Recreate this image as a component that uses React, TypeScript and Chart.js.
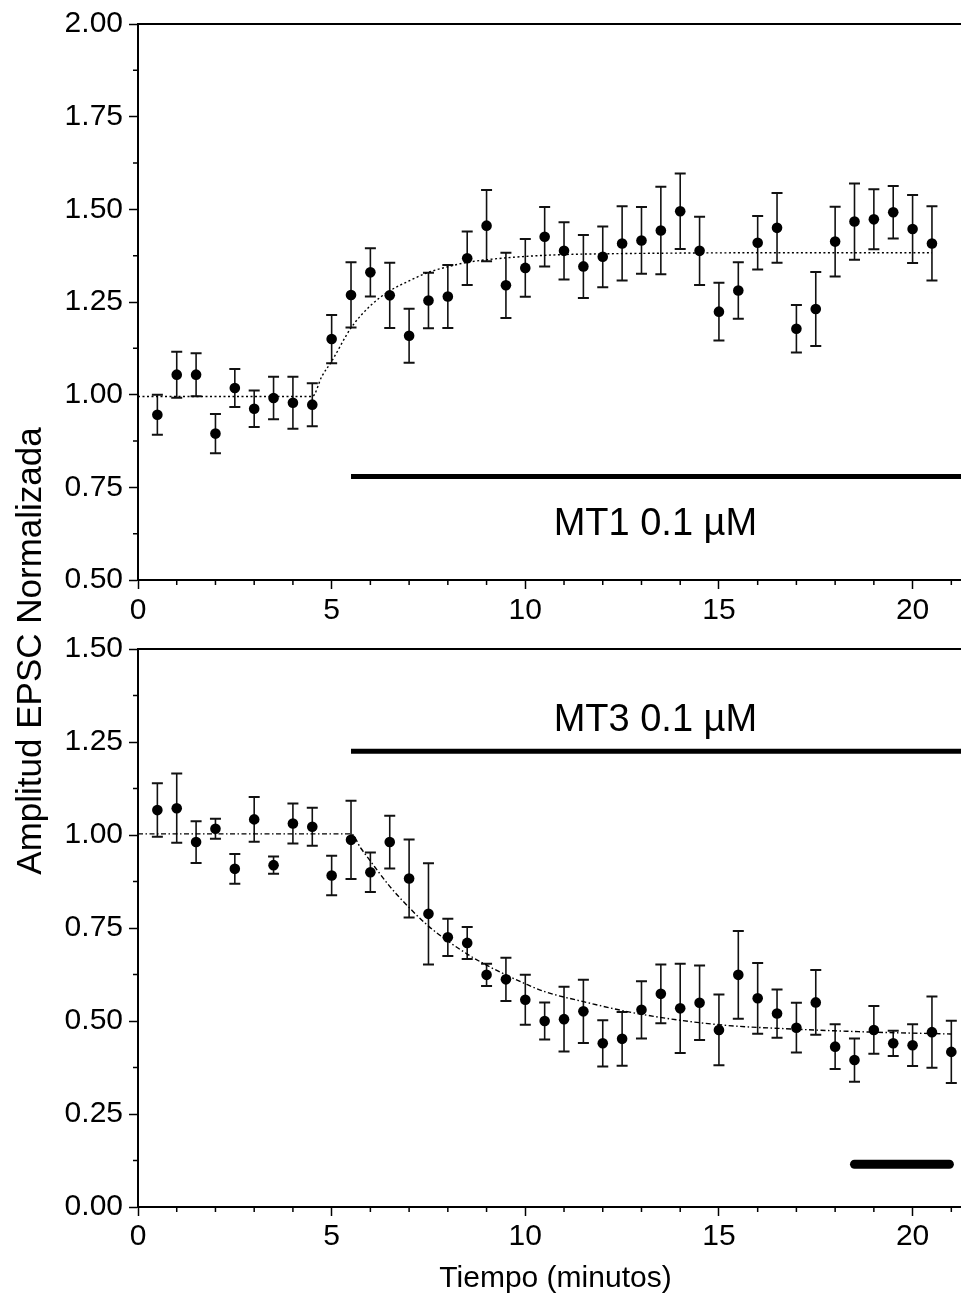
import React, { useEffect, useRef } from "react";
import { Chart, registerables } from "chart.js";

Chart.register(...registerables);

const FONT = "'Liberation Sans', Arial, Helvetica, sans-serif";

// ---------- data: top panel (MT1) ----------
const topTime = [
  0.5, 1, 1.5, 2, 2.5, 3, 3.5, 4, 4.5, 5, 5.5, 6, 6.5, 7, 7.5, 8, 8.5, 9, 9.5, 10,
  10.5, 11, 11.5, 12, 12.5, 13, 13.5, 14, 14.5, 15, 15.5, 16, 16.5, 17, 17.5, 18,
  18.5, 19, 19.5, 20, 20.5,
];
const topMean = [
  0.946, 1.054, 1.054, 0.895, 1.018, 0.962, 0.991, 0.978, 0.973, 1.15, 1.269, 1.33,
  1.268, 1.159, 1.254, 1.265, 1.368, 1.456, 1.295, 1.342, 1.426, 1.388, 1.346, 1.372,
  1.408, 1.416, 1.443, 1.495, 1.388, 1.224, 1.281, 1.41, 1.45, 1.178, 1.231, 1.413,
  1.467, 1.473, 1.492, 1.447, 1.408,
];
const topSem = [
  0.054, 0.062, 0.058, 0.053, 0.051, 0.049, 0.057, 0.07, 0.058, 0.065, 0.088, 0.065,
  0.088, 0.073, 0.075, 0.085, 0.072, 0.096, 0.088, 0.078, 0.08, 0.077, 0.085, 0.082,
  0.1, 0.09, 0.118, 0.102, 0.092, 0.078, 0.076, 0.072, 0.094, 0.064, 0.1, 0.094,
  0.103, 0.081, 0.071, 0.092, 0.1,
];
const topFitTime = [0, 4.5, 4.75, 5, 5.5, 6, 6.5, 7, 7.5, 8, 8.5, 9, 10, 11, 12, 14, 17, 20.5];
const topFitValue = [
  0.995, 0.995, 1.05, 1.09, 1.18, 1.24, 1.28, 1.307, 1.33, 1.345, 1.357, 1.364, 1.373,
  1.378, 1.38, 1.382, 1.383, 1.383,
];
const topBarTime = [5.5, 21.25];
const topBarLevel = 0.779;
const topLabel = "MT1 0.1 µM";
const topLabelAt = { x: 13.36, y: 0.622 };
const topRange = { min: 0.5, max: 2.0 };

// ---------- data: bottom panel (MT3) ----------
const bottomTime = [
  0.5, 1, 1.5, 2, 2.5, 3, 3.5, 4, 4.5, 5, 5.5, 6, 6.5, 7, 7.5, 8, 8.5, 9, 9.5, 10,
  10.5, 11, 11.5, 12, 12.5, 13, 13.5, 14, 14.5, 15, 15.5, 16, 16.5, 17, 17.5, 18,
  18.5, 19, 19.5, 20, 20.5, 21,
];
const bottomMean = [
  1.067, 1.072, 0.981, 1.017, 0.909, 1.042, 0.919, 1.031, 1.022, 0.891, 0.987, 0.9,
  0.981, 0.883, 0.788, 0.725, 0.71, 0.624, 0.612, 0.557, 0.5, 0.505, 0.526, 0.44,
  0.452, 0.53, 0.573, 0.534, 0.549, 0.476, 0.624, 0.561, 0.52, 0.482, 0.55, 0.431,
  0.395, 0.476, 0.44, 0.435, 0.47, 0.417,
];
const bottomSem = [
  0.072, 0.093, 0.056, 0.027, 0.04, 0.06, 0.023, 0.054, 0.051, 0.053, 0.105, 0.053,
  0.071, 0.105, 0.136, 0.05, 0.043, 0.03, 0.058, 0.067, 0.05, 0.087, 0.085, 0.062,
  0.072, 0.077, 0.079, 0.12, 0.1, 0.095, 0.118, 0.095, 0.065, 0.067, 0.087, 0.06,
  0.058, 0.064, 0.034, 0.056, 0.096, 0.084,
];
const bottomFitTime = [0, 5.5, 5.75, 6, 6.5, 7, 7.5, 8, 8.5, 9, 9.5, 10, 10.5, 11.5, 13, 15, 17, 19, 21];
const bottomFitValue = [
  1.003, 1.003, 0.965, 0.93, 0.862, 0.805, 0.755, 0.715, 0.68, 0.65, 0.624, 0.6, 0.579,
  0.552, 0.518, 0.49, 0.478, 0.47, 0.465,
];
const bottomBarTime = [5.5, 21.25];
const bottomBarLevel = 1.225;
const washBarTime = [18.5, 20.95];
const washBarLevel = 0.115;
const bottomLabel = "MT3 0.1 µM";
const bottomLabelAt = { x: 13.36, y: 1.28 };
const bottomRange = { min: 0, max: 1.5 };

const xRange = { min: 0, max: 21.25 };
const xMajorStep = 5;
const yMajorStep = 0.25;
const yTitle = "Amplitud EPSC Normalizada";
const xTitle = "Tiempo (minutos)";

const pts = (xs: number[], ys: number[]) => xs.map((x, i) => ({ x, y: ys[i] }));

// ---------- plugins ----------
const errorBars = {
  id: "errorBars",
  beforeDatasetsDraw(chart: any, _a: any, opts: any) {
    const { ctx } = chart;
    const x = chart.scales.x;
    const y = chart.scales.y;
    const { time, mean, sem } = opts;
    if (!time) return;
    ctx.save();
    ctx.strokeStyle = "#111";
    for (let i = 0; i < time.length; i++) {
      const px = x.getPixelForValue(time[i]);
      const hi = y.getPixelForValue(mean[i] + sem[i]);
      const lo = y.getPixelForValue(mean[i] - sem[i]);
      ctx.lineWidth = 1.6;
      ctx.beginPath();
      ctx.moveTo(px, hi);
      ctx.lineTo(px, lo);
      ctx.stroke();
      ctx.lineWidth = 2;
      ctx.beginPath();
      ctx.moveTo(px - 5.5, hi);
      ctx.lineTo(px + 5.5, hi);
      ctx.moveTo(px - 5.5, lo);
      ctx.lineTo(px + 5.5, lo);
      ctx.stroke();
    }
    ctx.restore();
  },
};

const axisDecor = {
  id: "axisDecor",
  afterDraw(chart: any) {
    const { ctx, chartArea } = chart;
    const x = chart.scales.x;
    const y = chart.scales.y;
    ctx.save();
    ctx.strokeStyle = "#000";
    ctx.lineWidth = 1.5;
    ctx.beginPath();
    for (let v = Math.ceil(x.min); v <= x.max + 1e-9; v += 1) {
      if (Math.abs(v % xMajorStep) < 1e-9) continue;
      const px = x.getPixelForValue(v);
      ctx.moveTo(px, chartArea.bottom);
      ctx.lineTo(px, chartArea.bottom + 5);
    }
    for (let v = y.min + yMajorStep / 2; v < y.max; v += yMajorStep) {
      const py = y.getPixelForValue(v);
      ctx.moveTo(chartArea.left, py);
      ctx.lineTo(chartArea.left - 5, py);
    }
    ctx.stroke();
    ctx.lineWidth = 2;
    ctx.beginPath();
    ctx.moveTo(chartArea.left, chartArea.top);
    ctx.lineTo(chartArea.right, chartArea.top);
    ctx.stroke();
    ctx.restore();
  },
};

const annotation = {
  id: "annotation",
  afterDraw(chart: any, _a: any, opts: any) {
    const { ctx, chartArea } = chart;
    const x = chart.scales.x;
    const y = chart.scales.y;
    ctx.save();
    ctx.fillStyle = "#000";
    ctx.textAlign = "center";
    ctx.textBaseline = "alphabetic";
    if (opts.label) {
      ctx.font = `38px ${FONT}`;
      ctx.fillText(opts.label, x.getPixelForValue(opts.at.x), y.getPixelForValue(opts.at.y));
    }
    if (opts.xTitle) {
      ctx.font = `30px ${FONT}`;
      ctx.fillText(opts.xTitle, (chartArea.left + chartArea.right) / 2 + 6, chartArea.bottom + 80);
    }
    if (opts.yTitle) {
      ctx.font = `35px ${FONT}`;
      ctx.translate(41, 651);
      ctx.rotate(-Math.PI / 2);
      ctx.fillText(opts.yTitle, 0, 0);
    }
    ctx.restore();
  },
};

function makeConfig(p: {
  time: number[];
  mean: number[];
  sem: number[];
  fitTime: number[];
  fitValue: number[];
  fitDash: number[];
  bars: { time: number[]; level: number; width: number; cap: string }[];
  range: { min: number; max: number };
  label: string;
  labelAt: { x: number; y: number };
  padTop: number;
  padBottom: number;
  xHeight: number;
  tickPad: number;
  xTitle?: string;
  yTitle?: string;
}): any {
  const datasets: any[] = [
    {
      label: "data",
      data: pts(p.time, p.mean),
      showLine: false,
      pointRadius: 5.3,
      pointBorderWidth: 0,
      pointBackgroundColor: "#000",
      pointBorderColor: "#000",
      order: 0,
    },
    {
      label: "fit",
      data: pts(p.fitTime, p.fitValue),
      showLine: true,
      pointRadius: 0,
      borderColor: "#000",
      borderWidth: 1.4,
      borderDash: p.fitDash,
      cubicInterpolationMode: "monotone",
      order: 1,
    },
  ];
  p.bars.forEach((b, i) => {
    datasets.push({
      label: "bar" + i,
      data: b.time.map((t) => ({ x: t, y: b.level })),
      showLine: true,
      pointRadius: 0,
      borderColor: "#000",
      borderWidth: b.width,
      borderCapStyle: b.cap,
      order: 2,
    });
  });
  const axisCommon = {
    border: { display: true, color: "#000", width: 2 },
    grid: {
      display: true,
      drawOnChartArea: false,
      drawTicks: true,
      tickLength: 9,
      tickColor: "#000",
      tickWidth: 1.5,
    },
  };
  return {
    type: "scatter",
    data: { datasets },
    options: {
      responsive: false,
      animation: false,
      events: [],
      layout: {
        autoPadding: false,
        padding: { top: p.padTop, bottom: p.padBottom, left: 0, right: 0 },
      },
      plugins: {
        legend: { display: false },
        tooltip: { enabled: false },
        errorBars: { time: p.time, mean: p.mean, sem: p.sem },
        annotation: { label: p.label, at: p.labelAt, xTitle: p.xTitle, yTitle: p.yTitle },
      },
      scales: {
        x: {
          type: "linear",
          min: xRange.min,
          max: xRange.max,
          ...axisCommon,
          ticks: {
            stepSize: xMajorStep,
            includeBounds: false,
            autoSkip: false,
            maxRotation: 0,
            color: "#000",
            padding: p.tickPad,
            font: { family: FONT, size: 30 },
          },
          afterFit: (s: any) => {
            s.height = p.xHeight;
            s.paddingLeft = 0;
            s.paddingRight = 0;
          },
        },
        y: {
          type: "linear",
          min: p.range.min,
          max: p.range.max,
          ...axisCommon,
          ticks: {
            stepSize: yMajorStep,
            color: "#000",
            padding: 6,
            font: { family: FONT, size: 30 },
            callback: (v: any) => Number(v).toFixed(2),
          },
          afterFit: (s: any) => {
            s.width = 138;
            s.paddingTop = 0;
            s.paddingBottom = 0;
          },
        },
      },
    },
    plugins: [errorBars, axisDecor, annotation],
  };
}

export default function App() {
  const topRef = useRef<HTMLCanvasElement>(null);
  const botRef = useRef<HTMLCanvasElement>(null);

  useEffect(() => {
    const top = new Chart(
      topRef.current as HTMLCanvasElement,
      makeConfig({
        time: topTime,
        mean: topMean,
        sem: topSem,
        fitTime: topFitTime,
        fitValue: topFitValue,
        fitDash: [2, 2.5],
        bars: [{ time: topBarTime, level: topBarLevel, width: 5, cap: "butt" }],
        range: topRange,
        label: topLabel,
        labelAt: topLabelAt,
        padTop: 24,
        padBottom: 655,
        xHeight: 65,
        tickPad: 4,
      })
    );
    const bottom = new Chart(
      botRef.current as HTMLCanvasElement,
      makeConfig({
        time: bottomTime,
        mean: bottomMean,
        sem: bottomSem,
        fitTime: bottomFitTime,
        fitValue: bottomFitValue,
        fitDash: [5, 2.5, 1.5, 2.5],
        bars: [
          { time: bottomBarTime, level: bottomBarLevel, width: 5, cap: "butt" },
          { time: washBarTime, level: washBarLevel, width: 9, cap: "round" },
        ],
        range: bottomRange,
        label: bottomLabel,
        labelAt: bottomLabelAt,
        padTop: 649,
        padBottom: 0,
        xHeight: 93,
        tickPad: 3,
        xTitle: xTitle,
        yTitle: yTitle,
      })
    );
    return () => {
      top.destroy();
      bottom.destroy();
    };
  }, []);

  const canvasStyle: React.CSSProperties = {
    position: "absolute",
    left: 0,
    top: 0,
    width: 961,
    height: 1300,
  };

  return (
    <div
      style={{
        position: "absolute",
        left: 0,
        top: 0,
        width: 961,
        height: 1300,
        background: "#fff",
        overflow: "hidden",
      }}
    >
      <canvas ref={topRef} width={961} height={1300} style={canvasStyle} />
      <canvas ref={botRef} width={961} height={1300} style={canvasStyle} />
    </div>
  );
}
